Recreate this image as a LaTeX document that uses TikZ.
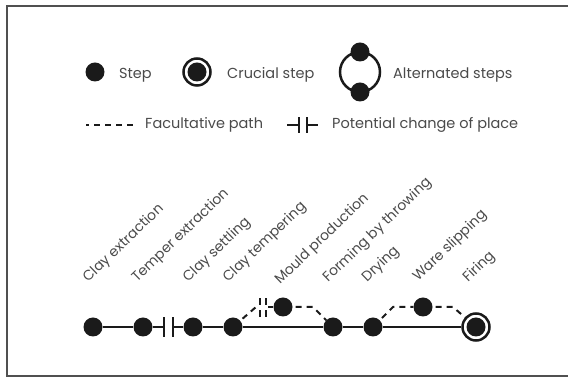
\documentclass[tikz,border=0pt]{standalone}
\usepackage{fontspec}
\setmainfont{Poppins}
\definecolor{ink}{HTML}{1A1A1A}
\definecolor{txt}{HTML}{4A4A4A}
\definecolor{framec}{HTML}{505050}
\begin{document}
\begin{tikzpicture}[x=1pt,y=1pt,
  stepdot/.style={circle,fill=ink,minimum size=19pt,inner sep=0pt},
  crucial/.style={circle,draw=ink,line width=2.5pt,minimum size=27pt,inner sep=0pt,
     path picture={\fill[ink] (path picture bounding box.center) circle (9.5pt);}},
  mainline/.style={draw=ink,line width=2pt},
  facult/.style={draw=ink,line width=2pt,dash pattern=on 6pt off 5pt},
  barline/.style={draw=ink,line width=2.5pt},
  legtext/.style={text=txt,anchor=base west,inner sep=0pt,font=\fontsize{14.5}{16}\selectfont},
  lbl/.style={text=txt,anchor=base west,inner sep=0pt,rotate=44,font=\fontsize{14}{16}\selectfont}]
\useasboundingbox (0,0) rectangle (568,377);
\draw[framec,line width=1.5pt] (7,1) rectangle (571,371);

% ---- legend ----
\node[stepdot] (lstep) at (95,305) {};
\node[legtext] (tstep) at (119,298) {Step};
\node[crucial] (lcru) at (197,305) {};
\node[legtext] (tcru) at (227,298) {Crucial step};
\draw[ink,line width=2.5pt] (360,305) circle (20pt);
\node[stepdot] (lalt1) at (360,325) {};
\node[stepdot] (lalt2) at (360,285) {};
\node[legtext] (talt) at (393,298) {Alternated steps};

\coordinate (lf1) at (86,252);
\coordinate (lf2) at (134,252);
\draw[facult,dash phase=3pt] (lf1) -- (lf2);
\node[legtext] (tfac) at (145,248) {Facultative path};
\coordinate (lp1) at (287,252);
\coordinate (lp2) at (299,252);
\coordinate (lp3) at (307,252);
\coordinate (lp4) at (318,252);
\draw[barline] (lp1) -- (lp2);
\draw[barline] (lp3) -- (lp4);
\draw[barline] (299,244) -- (299,260);
\draw[barline] (307,244) -- (307,260);
\node[legtext] (tpot) at (332,248) {Potential change of place};

% ---- process ----
\node[stepdot] (ce) at (93,50) {};
\node[stepdot] (te) at (143,50) {};
\coordinate (b1) at (164,50);
\coordinate (b2) at (173,50);
\node[stepdot] (cs) at (193,50) {};
\node[stepdot] (ct) at (233,50) {};
\node[stepdot] (mp) at (283,70) {};
\node[stepdot] (fb) at (333,50) {};
\node[stepdot] (dr) at (373,50) {};
\node[stepdot] (ws) at (423,70) {};
\node[crucial] (fi) at (476,50) {};

\draw[mainline] (ce) -- (te) -- (b1);
\draw[mainline] (b2) -- (cs) -- (ct) -- (fb) -- (dr) -- (fi);
\draw[barline] (164,40) -- (164,60);
\draw[barline] (173,40) -- (173,60);

\coordinate (m1) at (256,70);
\coordinate (m2) at (268,70);
\coordinate (m3) at (313,70);
\draw[facult,dash phase=-3pt] (ct) -- (m1);
\draw[facult] (m2) -- (mp);
\draw[facult,dash phase=-3pt] (mp) -- (m3) -- (fb);
\draw[ink,line width=2pt] (260,60) -- (260,67) (260,72) -- (260,79);
\draw[ink,line width=2pt] (266,60) -- (266,67) (266,72) -- (266,79);

\coordinate (w1) at (393,70);
\coordinate (w2) at (453,70);
\draw[facult,dash phase=-3pt] (dr) -- (w1) -- (ws);
\draw[facult,dash phase=-3pt] (ws) -- (w2) -- (fi);

% ---- labels ----
\node[lbl] (lce) at (88,94) {Clay extraction};
\node[lbl] (lte) at (137,94) {Temper extraction};
\node[lbl] (lcs) at (188,94) {Clay settling};
\node[lbl] (lct) at (228,94) {Clay tempering};
\node[lbl] (lmp) at (280,92) {Mould production};
\node[lbl] (lfb) at (328,94) {Forming by throwing};
\node[lbl] (ldr) at (367,94) {Drying};
\node[lbl] (lws) at (418,95) {Ware slipping};
\node[lbl] (lfi) at (468,94) {Firing};
\end{tikzpicture}
\end{document}
